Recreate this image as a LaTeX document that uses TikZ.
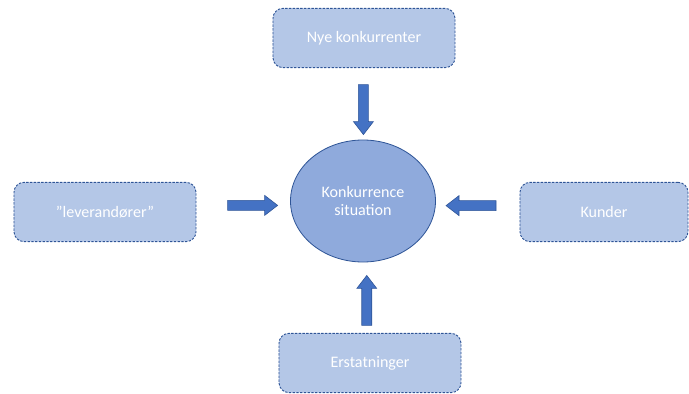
\documentclass[tikz,border=0pt]{standalone}
\usepackage{fontspec}
\setmainfont{Carlito}
\usetikzlibrary{calc,shapes.geometric}

\definecolor{boxfill}{HTML}{B4C7E7}
\definecolor{ringfill}{HTML}{8FAADC}
\definecolor{arrowfill}{HTML}{4472C4}
\definecolor{edgeblue}{HTML}{2F5597}

\tikzset{
  force/.style={draw=edgeblue, fill=boxfill, rounded corners=0.3cm,
    dash pattern=on 2pt off 1.2pt, line width=0.8pt,
    minimum width=5.46cm, minimum height=1.78cm,
    text=white, font=\fontsize{13.7}{16}\selectfont},
  center/.style={ellipse, draw=edgeblue, fill=ringfill, line width=0.7pt,
    minimum width=4.35cm, minimum height=3.66cm, align=center,
    text=white, font=\fontsize{13.7}{16}\selectfont},
  blockarrow/.pic={
    \filldraw[draw=edgeblue, fill=arrowfill, line width=0.5pt]
      (-25,-5) -- (12,-5) -- (12,-10) -- (25,0) -- (12,10) -- (12,5)
      -- (-25,5) -- cycle;
  }
}

\begin{document}
\begin{tikzpicture}[x=0.03cm, y=-0.03cm]
\useasboundingbox (0,0) rectangle (689,394);

% the five fields
\node[center] (sit) at (363,201) {Konkurrence\\situation};
\node[force] (nye) at (364,38) {Nye konkurrenter};
\node[force] (lev) at (105,212) {”leverandører”};
\node[force, minimum width=5.04cm] (kun) at (604,212) {Kunder};
\node[force] (ers) at (370,363) {Erstatninger};

% arrows towards the centre
\pic[rotate=-90] at ($(nye.south)!0.58!(sit.north)$) {blockarrow};
\pic at ($(lev.east)!0.6!(sit.west)$) {blockarrow};
\pic[rotate=180] at ($(kun.west)!0.58!(sit.east)$) {blockarrow};
\pic[rotate=90] at ($(ers.north)!0.46!(sit.south)$) {blockarrow};

\end{tikzpicture}
\end{document}
